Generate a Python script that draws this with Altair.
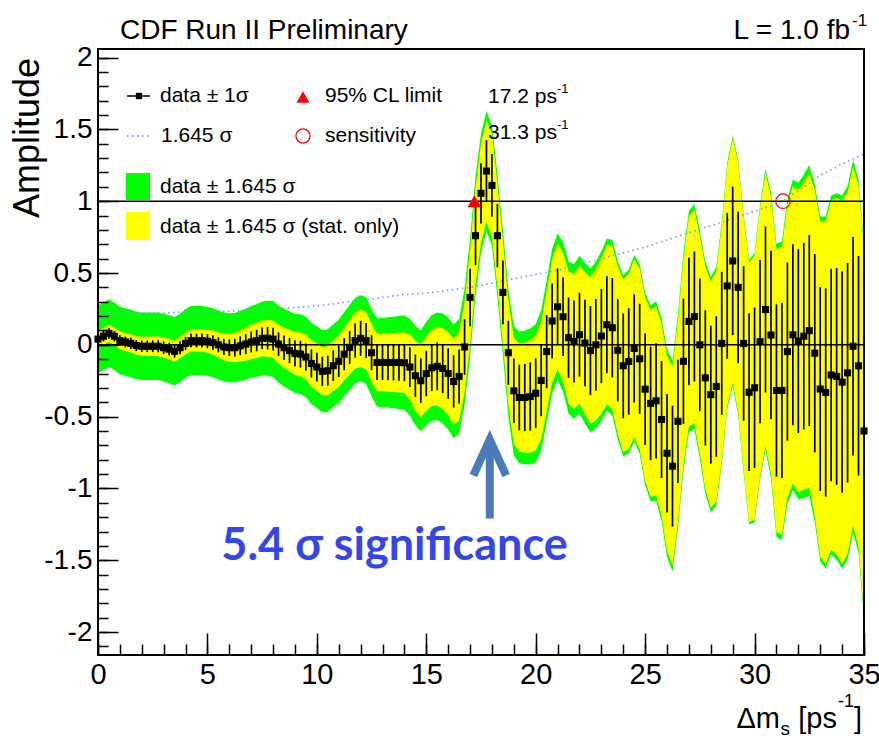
import altair as alt
import pandas as pd

# ---------------- data ----------------
X_STEP = 0.25  # scan step in ps^-1 (points at 0, 0.25, ..., 35)

amp = [0.04, 0.06, 0.08, 0.06, 0.03, 0.02, 0.01, -0.005,
       -0.01, -0.01, -0.01, -0.01, -0.02, -0.03, -0.045, -0.02,
       0.01, 0.03, 0.03, 0.03, 0.025, 0.015, 0.0, -0.015,
       -0.02, -0.02, -0.007, 0.005, 0.02, 0.03, 0.045, 0.046,
       0.04, 0.005, -0.02, -0.04, -0.06, -0.065, -0.085, -0.13,
       -0.155, -0.185, -0.18, -0.145, -0.115, -0.065, -0.018, 0.03,
       0.045, 0.03, -0.055, -0.123, -0.123, -0.123, -0.123, -0.123,
       -0.125, -0.155, -0.215, -0.25, -0.2, -0.16, -0.15, -0.165,
       -0.2, -0.255, -0.22, -0.015, 0.33, 0.76, 1.055, 1.21,
       1.11, 0.76, 0.365, -0.055, -0.32, -0.367, -0.367, -0.36,
       -0.337, -0.248, -0.047, 0.166, 0.265, 0.196, 0.05, 0.023,
       0.071, 0.012, -0.04, 0.0, 0.061, 0.14, 0.119, -0.038,
       -0.146, -0.116, -0.025, -0.097, -0.309, -0.408, -0.39, -0.52,
       -0.755, -0.845, -0.533, -0.115, 0.163, 0.197, 0.0, -0.23,
       -0.347, -0.29, 0.01, 0.41, 0.584, 0.4, 0.01, -0.33,
       -0.299, 0.022, 0.246, 0.068, -0.318, -0.318, -0.047, 0.07,
       0.026, 0.06, 0.099, -0.058, -0.308, -0.332, -0.21, -0.22,
       -0.26, -0.195, -0.01, -0.146, -0.6]

sig_stat = [0.036, 0.036, 0.037, 0.037, 0.038, 0.038, 0.039, 0.039,
            0.040, 0.041, 0.041, 0.042, 0.043, 0.044, 0.044, 0.045,
            0.046, 0.047, 0.047, 0.048, 0.049, 0.051, 0.053, 0.056,
            0.058, 0.062, 0.066, 0.070, 0.073, 0.075, 0.076, 0.078,
            0.079, 0.082, 0.085, 0.088, 0.091, 0.093, 0.095, 0.098,
            0.100, 0.102, 0.104, 0.107, 0.109, 0.112, 0.115, 0.119,
            0.122, 0.122, 0.122, 0.122, 0.122, 0.124, 0.125, 0.127,
            0.128, 0.138, 0.148, 0.155, 0.158, 0.162, 0.166, 0.171,
            0.176, 0.182, 0.188, 0.194, 0.200, 0.205, 0.210, 0.215,
            0.219, 0.220, 0.222, 0.223, 0.225, 0.229, 0.234, 0.238,
            0.243, 0.249, 0.255, 0.261, 0.267, 0.273, 0.280, 0.286,
            0.292, 0.301, 0.310, 0.319, 0.328, 0.337, 0.346, 0.356,
            0.365, 0.371, 0.377, 0.383, 0.389, 0.395, 0.401, 0.407,
            0.413, 0.421, 0.429, 0.436, 0.444, 0.453, 0.462, 0.471,
            0.480, 0.489, 0.498, 0.508, 0.517, 0.528, 0.538, 0.549,
            0.559, 0.568, 0.578, 0.587, 0.600, 0.610, 0.620, 0.630,
            0.640, 0.650, 0.665, 0.690, 0.710, 0.725, 0.740, 0.755,
            0.770, 0.765, 0.760, 0.765, 0.775]

sig_tot = [0.143, 0.143, 0.143, 0.143, 0.143, 0.143, 0.143, 0.143,
           0.143, 0.143, 0.143, 0.143, 0.143, 0.144, 0.145, 0.145,
           0.146, 0.146, 0.146, 0.146, 0.146, 0.146, 0.146, 0.146,
           0.146, 0.147, 0.149, 0.150, 0.152, 0.154, 0.156, 0.159,
           0.161, 0.163, 0.164, 0.166, 0.167, 0.169, 0.170, 0.172,
           0.173, 0.174, 0.175, 0.175, 0.176, 0.178, 0.179, 0.181,
           0.182, 0.184, 0.185, 0.187, 0.188, 0.191, 0.194, 0.197,
           0.200, 0.205, 0.210, 0.214, 0.219, 0.224, 0.228, 0.233,
           0.237, 0.240, 0.243, 0.246, 0.249, 0.251, 0.252, 0.254,
           0.255, 0.260, 0.265, 0.269, 0.274, 0.279, 0.283, 0.288,
           0.292, 0.297, 0.301, 0.306, 0.310, 0.316, 0.322, 0.328,
           0.334, 0.340, 0.347, 0.353, 0.359, 0.365, 0.371, 0.377,
           0.383, 0.389, 0.395, 0.401, 0.407, 0.415, 0.423, 0.430,
           0.438, 0.446, 0.453, 0.461, 0.468, 0.476, 0.483, 0.491,
           0.498, 0.506, 0.514, 0.522, 0.530, 0.540, 0.550, 0.560,
           0.570, 0.582, 0.595, 0.607, 0.620, 0.632, 0.645, 0.657,
           0.670, 0.685, 0.700, 0.715, 0.730, 0.745, 0.760, 0.775,
           0.790, 0.790, 0.790, 0.790, 0.795]

# 1.645 sigma sensitivity curve (dotted), read at integer ps^-1
sens_x = list(range(36))
sens_y = [0.22, 0.22, 0.22, 0.22, 0.23, 0.23, 0.235, 0.24, 0.25, 0.26,
          0.27, 0.29, 0.31, 0.33, 0.35, 0.36, 0.38, 0.40, 0.43, 0.46,
          0.49, 0.52, 0.56, 0.60, 0.64, 0.68, 0.73, 0.78, 0.83, 0.88,
          0.93, 0.98, 1.07, 1.18, 1.26, 1.33]

limit_x, limit_y = [17.2], [1.0]       # 95% CL limit
sensit_x, sensit_y = [31.3], [1.0]     # sensitivity
ref_lines = [0.0, 1.0]

x_ticks = [0, 5, 10, 15, 20, 25, 30, 35]
x_minor = list(range(36))
y_ticks = [-2, -1.5, -1, -0.5, 0, 0.5, 1, 1.5, 2]
y_minor = [round(-2.1 + 0.1 * i, 1) for i in range(42)]

arrow_head_x = [17.15, 17.9, 18.65]
arrow_head_y = [-0.91, -0.66, -0.91]
arrow_shaft = {"x": [17.9], "y0": [-1.21], "y1": [-0.70]}
annot = {"text": ["5.4 σ significance"], "x": [13.55], "y": [-1.40]}

# ---------------- build tables ----------------
K = 1.645
xs = [round(i * X_STEP, 2) for i in range(len(amp))]
df = pd.DataFrame({"x": xs, "amp": amp, "ss": sig_stat, "st": sig_tot})
df["g_lo"] = df.amp - K * df.st
df["g_hi"] = df.amp + K * df.st
df["y_lo"] = df.amp - K * df.ss
df["y_hi"] = df.amp + K * df.ss
df["e_lo"] = df.amp - df.ss
df["e_hi"] = df.amp + df.ss

sens_df = pd.DataFrame({"x": sens_x, "y": sens_y})

W, H = 766, 606
XD = [0, 35]
YD = [-2.16, 2.06]
FONT = "Liberation Sans, Arial, Helvetica, sans-serif"

xsc = alt.Scale(domain=XD, nice=False, zero=False)
ysc = alt.Scale(domain=YD, nice=False, zero=False)

lab_x = alt.Axis(orient="bottom", values=x_ticks, ticks=False, domain=False, grid=False,
                 labelFont=FONT, labelFontSize=29, labelColor="black", labelPadding=5,
                 labelFlush=False, labelOverlap=False, labelBound=False,
                 labelExpr="toString(datum.value)")
lab_y = alt.Axis(orient="left", values=y_ticks, ticks=False, domain=False, grid=False,
                 labelFont=FONT, labelFontSize=28, labelColor="black", labelPadding=6,
                 labelFlush=False, labelOverlap=False, labelBound=False,
                 labelExpr="toString(datum.value)")


def tick_axis(orient, offset, values, size):
    return alt.Axis(orient=orient, offset=offset, values=values, tickSize=size,
                    tickWidth=1.5, tickColor="black", labels=False, domain=False,
                    grid=False, zindex=1)


base = alt.Chart(df)

green = base.mark_area(color="#00ff00").encode(
    x=alt.X("x:Q", scale=xsc, axis=lab_x, title=None),
    y=alt.Y("g_lo:Q", scale=ysc, axis=lab_y, title=None),
    y2="g_hi:Q")

yellow = base.mark_area(color="#ffff00").encode(
    x=alt.X("x:Q", scale=xsc, axis=None),
    y=alt.Y("y_lo:Q", scale=ysc, axis=None),
    y2="y_hi:Q")

dotted = alt.Chart(sens_df).mark_line(color="#7f9de6", strokeDash=[1.5, 3.5], strokeWidth=1.8).encode(
    x=alt.X("x:Q", scale=xsc, axis=None),
    y=alt.Y("y:Q", scale=ysc, axis=None))

hlines = alt.Chart(pd.DataFrame({"y": ref_lines})).mark_rule(color="black", strokeWidth=1.4).encode(
    y=alt.Y("y:Q", scale=ysc, axis=None))

errs = base.mark_rule(color="black", strokeWidth=1.7).encode(
    x=alt.X("x:Q", scale=xsc, axis=None),
    y=alt.Y("e_lo:Q", scale=ysc, axis=None),
    y2="e_hi:Q")

pts = base.mark_square(color="black", size=50, opacity=1).encode(
    x=alt.X("x:Q", scale=xsc, axis=None),
    y=alt.Y("amp:Q", scale=ysc, axis=None))

tri = alt.Chart(pd.DataFrame({"x": limit_x, "y": limit_y})).mark_point(
    shape="triangle-up", filled=True, color="#ff0000", size=190, opacity=1).encode(
    x=alt.X("x:Q", scale=xsc, axis=None), y=alt.Y("y:Q", scale=ysc, axis=None))

circ = alt.Chart(pd.DataFrame({"x": sensit_x, "y": sensit_y})).mark_point(
    shape="circle", filled=False, color="#ff0000", size=210, strokeWidth=1.3, opacity=1).encode(
    x=alt.X("x:Q", scale=xsc, axis=None), y=alt.Y("y:Q", scale=ysc, axis=None))

# tick-only axes drawn inside the frame (ROOT style)
ticks_major = base.mark_point(opacity=0).encode(
    x=alt.X("x:Q", scale=xsc, axis=tick_axis("top", -H, x_ticks, 22), title=None),
    y=alt.Y("amp:Q", scale=ysc, axis=tick_axis("right", -W, y_ticks, 20), title=None))
ticks_minor = base.mark_point(opacity=0).encode(
    x=alt.X("x:Q", scale=xsc, axis=tick_axis("top", -H, x_minor, 11), title=None),
    y=alt.Y("amp:Q", scale=ysc, axis=tick_axis("right", -W, y_minor, 10), title=None))

frame = alt.Chart(pd.DataFrame({"x0": [XD[0]], "x1": [XD[1]], "y0": [YD[0]], "y1": [YD[1]]})).mark_rect(
    fillOpacity=0, stroke="black", strokeWidth=2).encode(
    x=alt.X("x0:Q", scale=xsc, axis=None), x2="x1:Q",
    y=alt.Y("y0:Q", scale=ysc, axis=None), y2="y1:Q")

# arrow + significance annotation (in data coordinates)
shaft = alt.Chart(pd.DataFrame(arrow_shaft)).mark_rule(color="#4a7ab8", strokeWidth=8).encode(
    x=alt.X("x:Q", scale=xsc, axis=None),
    y=alt.Y("y0:Q", scale=ysc, axis=None), y2="y1:Q")
head = alt.Chart(pd.DataFrame({"x": arrow_head_x, "y": arrow_head_y, "o": [0, 1, 2]})).mark_line(
    color="#4a7ab8", strokeWidth=8, strokeJoin="miter").encode(
    x=alt.X("x:Q", scale=xsc, axis=None), y=alt.Y("y:Q", scale=ysc, axis=None), order="o:O")
sig_text = alt.Chart(pd.DataFrame(annot)).mark_text(
    font="Lato, Open Sans, sans-serif", fontWeight="bold", fontSize=45, color="#3446ea",
    align="center", baseline="middle").encode(
    x=alt.X("x:Q", scale=xsc, axis=None), y=alt.Y("y:Q", scale=ysc, axis=None), text="text:N")

# ---------------- legend / labels (pixel layout relative to plot origin) ----------------
texts = pd.DataFrame([
    # text, x, y, size, align
    ("CDF Run II Preliminary", 22, -18, 28, "left"),
    ("L = 1.0 fb", 752, -18, 28, "right"),
    ("-1", 754, -28, 17, "left"),
    ("data ± 1σ", 62, 47, 21, "left"),
    ("95% CL limit", 227, 47, 21, "left"),
    ("17.2 ps", 390, 48, 21, "left"),
    ("-1", 459, 40, 13, "left"),
    ("1.645 σ", 63, 87, 21, "left"),
    ("sensitivity", 227, 87, 21, "left"),
    ("31.3 ps", 390, 84, 21, "left"),
    ("-1", 459, 76, 13, "left"),
    ("data ± 1.645 σ", 62, 138, 21, "left"),
    ("data ± 1.645 σ (stat. only)", 62, 178, 21, "left"),
    ("]", 764, 670, 29, "right"),
    ("-1", 756, 653, 18, "right"),
    ("[ps", 739, 670, 29, "right"),
    ("s", 692, 680, 19, "right"),
    ("Δm", 682, 670, 29, "right"),
], columns=["t", "px", "py", "fs", "al"])

text_layers = []
for al, g in texts.groupby("al"):
    for fs, gg in g.groupby("fs"):
        text_layers.append(
            alt.Chart(gg).mark_text(align=al, baseline="middle", font=FONT, fontSize=float(fs),
                                    color="black").encode(
                x=alt.X("px:Q", scale=None, axis=None),
                y=alt.Y("py:Q", scale=None, axis=None),
                text="t:N"))

ytitle = alt.Chart(pd.DataFrame({"t": ["Amplitude"], "px": [-70], "py": [9]})).mark_text(
    align="right", baseline="middle", angle=270, font=FONT, fontSize=36, color="black").encode(
    x=alt.X("px:Q", scale=None, axis=None), y=alt.Y("py:Q", scale=None, axis=None), text="t:N")

leg_line = alt.Chart(pd.DataFrame({"a": [29], "b": [52], "y": [47]})).mark_rule(
    color="black", strokeWidth=1.5).encode(
    x=alt.X("a:Q", scale=None, axis=None), x2="b:Q", y=alt.Y("y:Q", scale=None, axis=None))
leg_sq = alt.Chart(pd.DataFrame({"x": [41], "y": [47]})).mark_square(
    color="black", size=40, opacity=1).encode(
    x=alt.X("x:Q", scale=None, axis=None), y=alt.Y("y:Q", scale=None, axis=None))
leg_dot = alt.Chart(pd.DataFrame({"a": [29], "b": [52], "y": [87]})).mark_rule(
    color="#7f9de6", strokeDash=[1.5, 3.5], strokeWidth=1.8).encode(
    x=alt.X("a:Q", scale=None, axis=None), x2="b:Q", y=alt.Y("y:Q", scale=None, axis=None))
leg_tri = alt.Chart(pd.DataFrame({"x": [205], "y": [48]})).mark_point(
    shape="triangle-up", filled=True, color="#ff0000", size=170, opacity=1).encode(
    x=alt.X("x:Q", scale=None, axis=None), y=alt.Y("y:Q", scale=None, axis=None))
leg_circ = alt.Chart(pd.DataFrame({"x": [205], "y": [87]})).mark_point(
    shape="circle", filled=False, color="#ff0000", size=200, strokeWidth=1.3, opacity=1).encode(
    x=alt.X("x:Q", scale=None, axis=None), y=alt.Y("y:Q", scale=None, axis=None))
leg_boxes = alt.Chart(pd.DataFrame({"x0": [28, 28], "x1": [52, 52], "y0": [124, 163], "y1": [151, 191],
                                    "c": ["#00ff00", "#ffff00"]})).mark_rect().encode(
    x=alt.X("x0:Q", scale=None, axis=None), x2="x1:Q",
    y=alt.Y("y0:Q", scale=None, axis=None), y2="y1:Q",
    color=alt.Color("c:N", scale=None, legend=None))

chart = alt.layer(
    green, yellow, dotted, hlines, errs, pts, tri, circ, frame,
    ticks_major, ticks_minor, shaft, head, sig_text,
    leg_line, leg_sq, leg_dot, leg_tri, leg_circ, leg_boxes, ytitle, *text_layers
).resolve_axis(x="independent", y="independent").properties(
    width=W, height=H,
    autosize=alt.AutoSizeParams(type="none"),
    padding={"left": 98, "top": 49, "right": 15, "bottom": 90},
    background="white",
).configure_view(strokeWidth=0)

chart.save("out.html", embed_options={"renderer": "svg", "actions": False})
